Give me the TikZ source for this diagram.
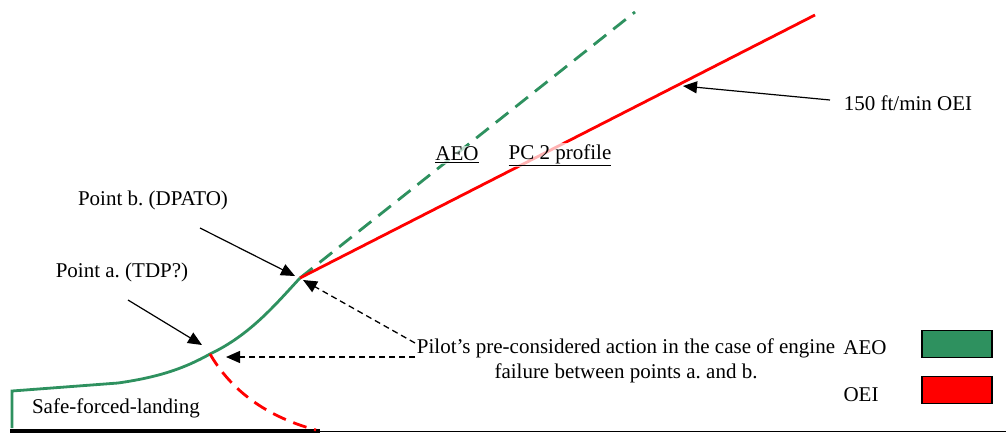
\documentclass[tikz,border=0pt]{standalone}
\usepackage{fontspec}
\setmainfont{Liberation Serif}
\usetikzlibrary{arrows.meta}
\definecolor{aeogreen}{RGB}{46,145,95}
\definecolor{oeired}{RGB}{255,0,0}
\frenchspacing
\tikzset{
  lbl/.style={font=\fontsize{21}{25}\selectfont, inner sep=1pt},
  faded/.style={lbl, fill=white, fill opacity=0.7, text opacity=1},
  tip/.style={-{Triangle[length=14pt,width=12pt]}, line width=1.2pt},
  ptr/.style={-{Triangle[length=14pt,width=12pt]}, dash pattern=on 6pt off 4pt, line width=1.3pt},
  aeo/.style={aeogreen, line width=2.8pt},
  oei/.style={oeired, line width=2.8pt},
  legbox/.style={draw, line width=1.3pt, minimum width=70pt, minimum height=27pt},
}
\begin{document}
\begin{tikzpicture}[x=1pt, y=-1pt]
  \useasboundingbox (0,0) rectangle (1006,434);

  \coordinate (s0) at (12,428);
  \coordinate (s1) at (12,391);
  \coordinate (k) at (118,383);
  \coordinate (a) at (210,354);
  \coordinate (b) at (300,278);
  \coordinate (g) at (635,12);
  \coordinate (r) at (815,15);
  \coordinate (c) at (316,430);
  \coordinate (g0) at (10,431);
  \coordinate (g1) at (320,431);
  \coordinate (g2) at (1006,431);

  % ground
  \draw [line width=1pt] (g0) -- (g2);
  \draw [line width=4pt] (g0) -- (g1);

  % profiles
  \draw [aeo] (s0) -- (s1) -- (k) .. controls (160,377) and (185,368) .. (a) .. controls (250,335) and (275,305) .. (b);
  \draw [aeo, dash pattern=on 16pt off 9pt] (b) -- (g);
  \draw [oei] (b) -- (r);
  \draw [oei, dash pattern=on 14pt off 8pt] (a) .. controls (228,385) and (260,415) .. (c);

  % labels
  \node [faded] (aeo) at (457,155) {\underline{AEO}};
  \node [faded] (pc2) at (560,155) {\underline{PC 2 profile}};
  \node [lbl] (rate) at (908,103) {150 ft/min OEI};
  \node [lbl] (pb) at (153,200) {Point b. (DPATO)};
  \node [lbl] (pa) at (122,272) {Point a. (TDP?)};
  \node [lbl, align=center] (pilot) at (626,361) {Pilot's pre-considered action in the case of engine\\failure between points a. and b.};
  \node [lbl] (safe) at (116,408) {Safe-forced-landing};

  % legend
  \node [lbl] (legaeo) at (865,348) {AEO};
  \node [lbl] (legoei) at (861,395) {OEI};
  \node [legbox, fill=aeogreen] (boxaeo) at (957,344) {};
  \node [legbox, fill=oeired] (boxoei) at (957,390) {};

  % pointers
  \coordinate (m) at (683,86);
  \coordinate (t1) at (830,100);
  \coordinate (t2) at (200,228);
  \coordinate (t3) at (128,300);
  \coordinate (t4) at (415,343);
  \coordinate (t5) at (415,357);
  \coordinate (bb) at (295,276);
  \coordinate (aa) at (202,345);
  \coordinate (bp) at (303,280);
  \coordinate (ap) at (226,357);
  \draw [tip] (t1) -- (m);
  \draw [tip] (t2) -- (bb);
  \draw [tip] (t3) -- (aa);
  \draw [ptr] (t4) -- (bp);
  \draw [ptr] (t5) -- (ap);
\end{tikzpicture}
\end{document}
